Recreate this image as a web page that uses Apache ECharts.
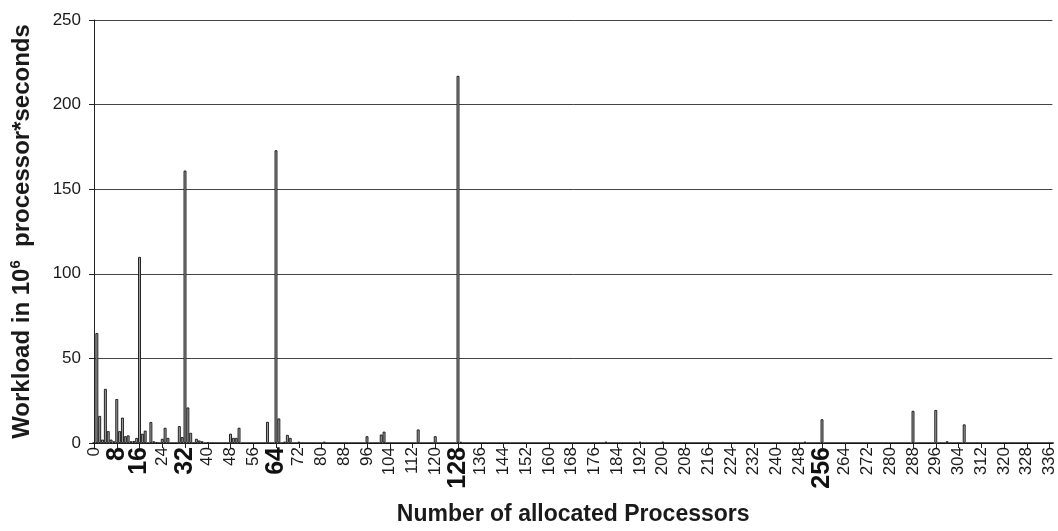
<!DOCTYPE html>
<html>
<head>
<meta charset="utf-8">
<script src="https://cdn.jsdelivr.net/npm/echarts@6/dist/echarts.min.js"></script>
<style>
html,body{margin:0;padding:0;background:#fff;}
#chart{width:1058px;height:531px;}
</style>
</head>
<body>
<div id="chart"></div>
<script>
// Processor counts that carry a workload bar, and the workload (10^6 processor*seconds)
const processors = [1,2,3,4,5,6,7,8,9,10,11,12,13,14,15,16,17,18,20,21,22,24,25,26,30,31,32,33,34,36,37,38,40,48,49,50,51,61,64,65,67,68,69,72,81,96,101,102,114,120,128,129,180,192,200,250,256,288,296,300,306];
const workload   = [65,16,2,32,7,2,1,26,7,15,4,4.5,1,1.2,3,110,5.5,7.3,12.4,1,0.6,2.5,9,3,10,3.5,161,21,6,2.5,1.5,1,0.5,5.5,3,3,9,12.5,173,14.5,0.8,4.8,3,0.8,0.8,4,5,6.7,8,4,217,0.7,0.8,0.8,0.8,0.8,14,19,19.5,1,11];
const maxProcessor = 337;
const boldLabels = [8,16,32,64,128,256];
const yTicks = [0,50,100,150,200,250];

const categories = [];
for (let i = 0; i <= maxProcessor; i++) categories.push(String(i));
const values = categories.map(() => 0);
processors.forEach((p, i) => { values[p] = workload[i]; });

const chart = echarts.init(document.getElementById('chart'));
const font = '"Liberation Sans", Arial, sans-serif';
chart.setOption({
  animation: false,
  backgroundColor: '#fff',
  grid: { left: 94, right: 2, top: 20, bottom: 87, containLabel: false },
  xAxis: {
    type: 'category',
    data: categories,
    boundaryGap: false,
    name: 'Number of allocated Processors',
    nameLocation: 'middle',
    nameGap: 60,
    nameTextStyle: { fontFamily: font, fontSize: 23, fontWeight: 'bold', color: '#1a1a1a' },
    axisLine: { lineStyle: { color: '#222', width: 1 } },
    axisTick: { show: true, interval: 7, alignWithLabel: true, length: 5, lineStyle: { color: '#222' } },
    axisLabel: {
      interval: 7,
      rotate: 90,
      margin: 4,
      fontFamily: font,
      color: '#1a1a1a',
      formatter: function (v) {
        return boldLabels.indexOf(Number(v)) >= 0 ? '{b|' + v + '}' : '{n|' + v + '}';
      },
      rich: {
        n: { fontFamily: font, fontSize: 17, color: '#1a1a1a' },
        b: { fontFamily: font, fontSize: 25, fontWeight: 'bold', color: '#111' }
      }
    },
    splitLine: { show: false }
  },
  yAxis: {
    type: 'value',
    min: yTicks[0],
    max: yTicks[yTicks.length - 1],
    interval: 50,
    name: 'Workload in 10{sup|6}  processor*seconds',
    nameLocation: 'middle',
    nameGap: 58,
    nameTextStyle: {
      fontFamily: font, fontSize: 24, fontWeight: 'bold', color: '#1a1a1a',
      rich: {
        sup: { fontFamily: font, fontSize: 15, fontWeight: 'bold', color: '#1a1a1a', verticalAlign: 'top', padding: [0, 0, 13, 0] }
      }
    },
    axisLine: { show: true, lineStyle: { color: '#222', width: 1 } },
    axisTick: { show: true, length: 5, lineStyle: { color: '#222' } },
    axisLabel: { fontFamily: font, fontSize: 17, color: '#1a1a1a', margin: 13 },
    splitLine: { show: true, lineStyle: { color: '#444', width: 1 } }
  },
  series: [{
    type: 'bar',
    data: values,
    barWidth: 2.9,
    itemStyle: { color: '#a0a0a0', borderColor: '#111', borderWidth: 0.9 }
  }]
});
</script>
</body>
</html>
